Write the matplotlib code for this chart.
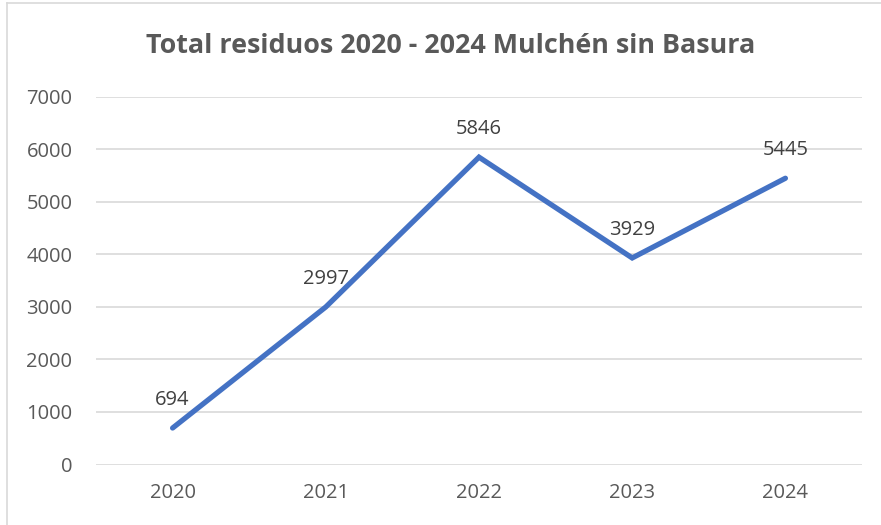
import matplotlib.pyplot as plt
from matplotlib.lines import Line2D

years = ['2020', '2021', '2022', '2023', '2024']
totals = [694, 2997, 5846, 3929, 5445]
y_ticks = [0, 1000, 2000, 3000, 4000, 5000, 6000, 7000]

plt.rcParams['font.family'] = ['Open Sans', 'DejaVu Sans']

fig = plt.figure(figsize=(8.81, 5.25), dpi=100)
ax = fig.add_axes([96 / 881, 1 - 464.5 / 525, (862 - 96) / 881, (464.5 - 96.5) / 525])

x = list(range(len(years)))
ax.plot(x, totals, color='#4472C4', linewidth=3.8, solid_capstyle='round',
        solid_joinstyle='miter', zorder=3)
for xi, v in zip(x, totals):
    ax.annotate(str(v), (xi, v), xytext=(0, 13), textcoords='offset points',
                ha='center', va='bottom', fontsize=14.5, color='#404040')

ax.set_xlim(-0.5, len(years) - 0.5)
ax.set_ylim(0, 7000)
ax.set_yticks(y_ticks)
ax.set_xticks(x)
ax.set_xticklabels(years)
ax.grid(axis='y', color='#D9D9D9', linewidth=1.2)
ax.set_axisbelow(True)
for s in ax.spines.values():
    s.set_visible(False)
ax.tick_params(length=0, labelsize=14.5, labelcolor='#595959')
ax.tick_params(axis='y', pad=17)
ax.tick_params(axis='x', pad=13)

fig.text(451 / 881, 1 - 46 / 525, 'Total residuos 2020 - 2024 Mulchén sin Basura',
         ha='center', va='center', fontsize=19.4, fontweight='bold', color='#595959')

# chart frame (left and top edges visible)
fig.add_artist(Line2D([7 / 881, 7 / 881], [0, 1 - 3 / 525], color='#D9D9D9', linewidth=1.2))
fig.add_artist(Line2D([7 / 881, 1], [1 - 3 / 525, 1 - 3 / 525], color='#D9D9D9', linewidth=1.2))

fig.savefig('out.png', dpi=100)
